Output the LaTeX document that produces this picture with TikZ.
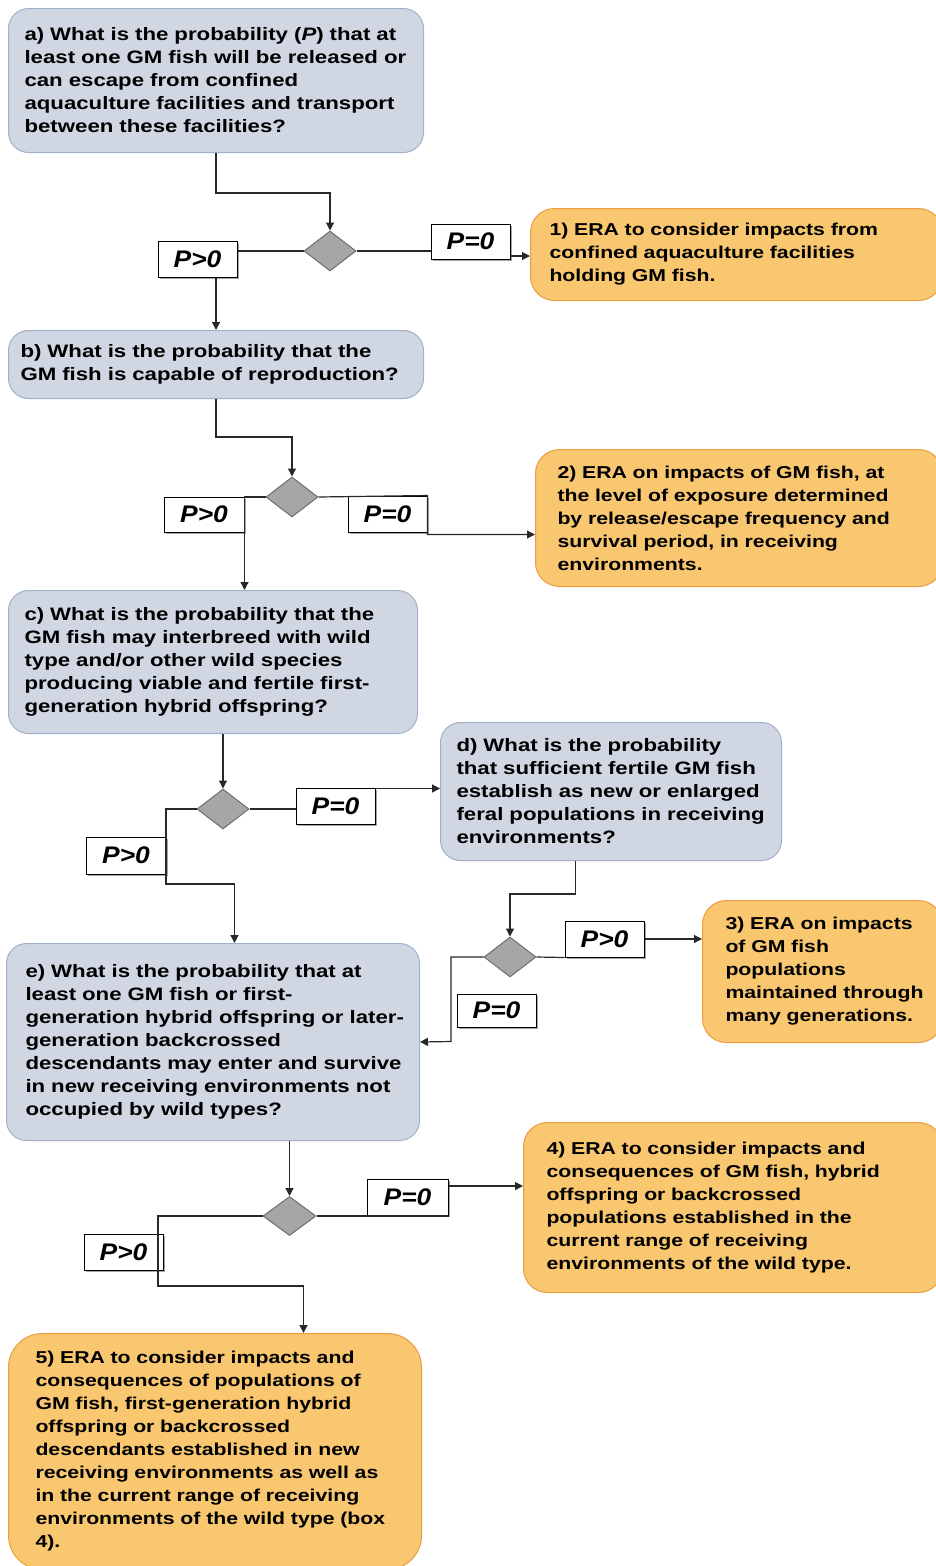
\documentclass[tikz,border=0pt]{standalone}
\usepackage{fontspec}
\usetikzlibrary{shapes.geometric,arrows.meta,shadows}
\newfontfamily\qfamily[FakeStretch=1.235]{Liberation Sans}
\newfontfamily\pfamily[FakeStretch=1.1]{Liberation Sans}
\definecolor{qfill}{RGB}{208,215,227}
\definecolor{qborder}{RGB}{160,176,200}
\definecolor{efill}{RGB}{248,199,112}
\definecolor{eborder}{RGB}{236,156,64}
\definecolor{decfill}{RGB}{166,166,166}
\definecolor{decborder}{RGB}{110,110,110}
\definecolor{linecol}{RGB}{40,40,40}
\newcommand{\qtext}{\qfamily\bfseries\fontsize{18}{23}\selectfont}
\newcommand{\etext}{\qfamily\bfseries\fontsize{17.2}{23}\selectfont\spaceskip=0.72em\relax}
% one unbreakable line of box text
\newcommand{\tl}[1]{\mbox{#1}}
\tikzset{
  qbox/.style={draw=qborder, fill=qfill, line width=1pt, rounded corners=20pt,
    anchor=north west, align=left, font=\qtext, inner ysep=0pt},
  ebox/.style={draw=eborder, fill=efill, line width=1pt, rounded corners=24pt,
    anchor=north west, align=left, font=\etext, inner ysep=0pt},
  dec/.style={diamond, draw=decborder, fill=decfill, line width=1pt,
    minimum width=52pt, minimum height=40pt, inner sep=0pt},
  plab/.style={draw=black, fill=white, line width=1pt, minimum width=79pt,
    minimum height=36pt, inner sep=0pt,
    font=\pfamily\bfseries\itshape\fontsize{24}{24}\selectfont,
    drop shadow={shadow xshift=2pt, shadow yshift=-2pt, fill=gray, opacity=0.7}},
  link/.style={draw=linecol, line width=1.2pt},
  arr/.style={link, -{Triangle[length=8pt,width=8pt]}}
}
\begin{document}
\begin{tikzpicture}[x=1pt,y=-1pt]
\useasboundingbox (0,0) rectangle (936,1566);

% question boxes
\node[qbox, inner xsep=16pt, text width=383pt, minimum height=144pt] (a) at (8,8)
  {\tl{a) What is the probability (\textit{P}) that at}\\
   \tl{least one GM fish will be released or}\\
   \tl{can escape from confined}\\
   \tl{aquaculture facilities and transport}\\
   \tl{between these facilities?}};
\node[qbox, inner xsep=12pt, text width=391pt, minimum height=68pt] (b) at (8,330)
  {\tl{b) What is the probability that the}\\
   \tl{GM fish is capable of reproduction?}};
\node[qbox, inner xsep=16pt, text width=377pt, minimum height=143pt] (c) at (8,590)
  {\tl{c) What is the probability that the}\\
   \tl{GM fish may interbreed with wild}\\
   \tl{type and/or other wild species}\\
   \tl{producing viable and fertile first-}\\
   \tl{generation hybrid offspring?}};
\node[qbox, inner xsep=16pt, text width=309pt, minimum height=138pt] (d) at (440,722)
  {\tl{d) What is the probability}\\
   \tl{that sufficient fertile GM fish}\\
   \tl{establish as new or enlarged}\\
   \tl{feral populations in receiving}\\
   \tl{environments?}};
\node[qbox, inner xsep=19pt, text width=375pt, minimum height=197pt] (e) at (6,943)
  {\tl{e) What is the probability that at}\\
   \tl{least one GM fish or first-}\\
   \tl{generation hybrid offspring or later-}\\
   \tl{generation backcrossed}\\
   \tl{descendants may enter and survive}\\
   \tl{in new receiving environments not}\\
   \tl{occupied by wild types?}};

% outcome boxes
\node[ebox, inner xsep=19pt, text width=374pt, minimum height=92pt] (e1) at (530,208)
  {\tl{1) ERA to consider impacts from}\\
   \tl{confined aquaculture facilities}\\
   \tl{holding GM fish.}};
\node[ebox, inner xsep=22pt, text width=363pt, minimum height=137pt] (e2) at (535,449)
  {\tl{2) ERA on impacts of GM fish, at}\\
   \tl{the level of exposure determined}\\
   \tl{by release/escape frequency and}\\
   \tl{survival period, in receiving}\\
   \tl{environments.}};
\node[ebox, inner xsep=23pt, text width=194pt, minimum height=142pt] (e3) at (702,900)
  {\tl{3) ERA on impacts}\\
   \tl{of GM fish}\\
   \tl{populations}\\
   \tl{maintained through}\\
   \tl{many generations.}};
\node[ebox, inner xsep=23pt, text width=373pt, minimum height=170pt] (e4) at (523,1122)
  {\tl{4) ERA to consider impacts and}\\
   \tl{consequences of GM fish, hybrid}\\
   \tl{offspring or backcrossed}\\
   \tl{populations established in the}\\
   \tl{current range of receiving}\\
   \tl{environments of the wild type.}};
\node[ebox, inner xsep=27pt, text width=359pt, minimum height=236pt, rounded corners=34pt] (e5) at (8,1333)
  {\tl{5) ERA to consider impacts and}\\
   \tl{consequences of populations of}\\
   \tl{GM fish, first-generation hybrid}\\
   \tl{offspring or backcrossed}\\
   \tl{descendants established in new}\\
   \tl{receiving environments as well as}\\
   \tl{in the current range of receiving}\\
   \tl{environments of the wild type (box}\\
   \tl{4).}};

% decision diamonds
\node[dec] (d1) at (330,251) {};
\node[dec] (d2) at (292,497) {};
\node[dec] (d3) at (223,809) {};
\node[dec] (d4) at (510,957) {};
\node[dec, minimum width=53pt, minimum height=39pt] (d5) at (289.5,1216) {};

% branch labels
\node[plab] (pg1) at (197.5,259) {P>0};
\node[plab, minimum height=35pt] (pe1) at (470.5,241.5) {P=0};
\node[plab, minimum width=80pt, minimum height=35pt] (pg2) at (204,514.5) {P>0};
\node[plab] (pe2) at (387.5,514) {P=0};
\node[plab, minimum width=80pt, minimum height=37pt] (pg3) at (126,855.5) {P>0};
\node[plab] (pe3) at (335.5,806) {P=0};
\node[plab] (pg4) at (604.5,939) {P>0};
\node[plab, minimum height=33pt] (pe4) at (496.5,1010.5) {P=0};
\node[plab] (pg5) at (123.5,1252) {P>0};
\node[plab, minimum width=81pt] (pe5) at (407.5,1197) {P=0};

% question a
\draw[arr] (a.south) -- ++(0,40) -| (d1.north);
\draw[link] (d1.west) -- (d1.west -| pg1.east);
\draw[arr] (pg1.south -| b.north) -- (b.north);
\draw[link] (d1.east) -- (d1.east -| pe1.west);
\draw[arr] ([yshift=-14.5pt]pe1.east) -- ([yshift=-14.5pt]pe1.east -| e1.west);

% question b
\draw[arr] (b.south) -- ++(0,38) -| (d2.north);
\draw[arr] (d2.west) -| (pg2.north east |- c.north);
\draw[arr] (d2.east) -- (pe2.north east) -- ([yshift=-2pt]pe2.south east)
  -- ([yshift=-2pt]pe2.south east -| e2.west);

% question c
\draw[arr] (d3.north |- c.south) -- (d3.north);
\draw[arr] (d3.west) -| (166,884) -| ([xshift=21.5pt]e.north);
\draw[link] (d3.east) -- (d3.east -| pe3.west);
\draw[arr] ([yshift=-1pt]pe3.north east) -- ([yshift=-1pt]pe3.north east -| d.west);

% question d
\draw[arr] ([xshift=-35.5pt]d.south) -- ++(0,33) -| (d4.north);
\draw[link] (d4.east) -- (pg4.south west);
\draw[arr] (pg4.east) -- (pg4.east -| e3.west);
\draw[arr] (d4.west) -| (451,1041.5) -- (e.east);

% question e
\draw[arr] (d5.north |- e.south) -- (d5.north);
\draw[arr] (d5.west) -| (158,1286) -| ([xshift=88.5pt]e5.north);
\draw[link] (d5.east) -- (d5.east -| pe5.east) -- (pe5.south east);
\draw[arr] ([yshift=11pt]pe5.east) -- ([yshift=11pt]pe5.east -| e4.west);
\end{tikzpicture}
\end{document}
